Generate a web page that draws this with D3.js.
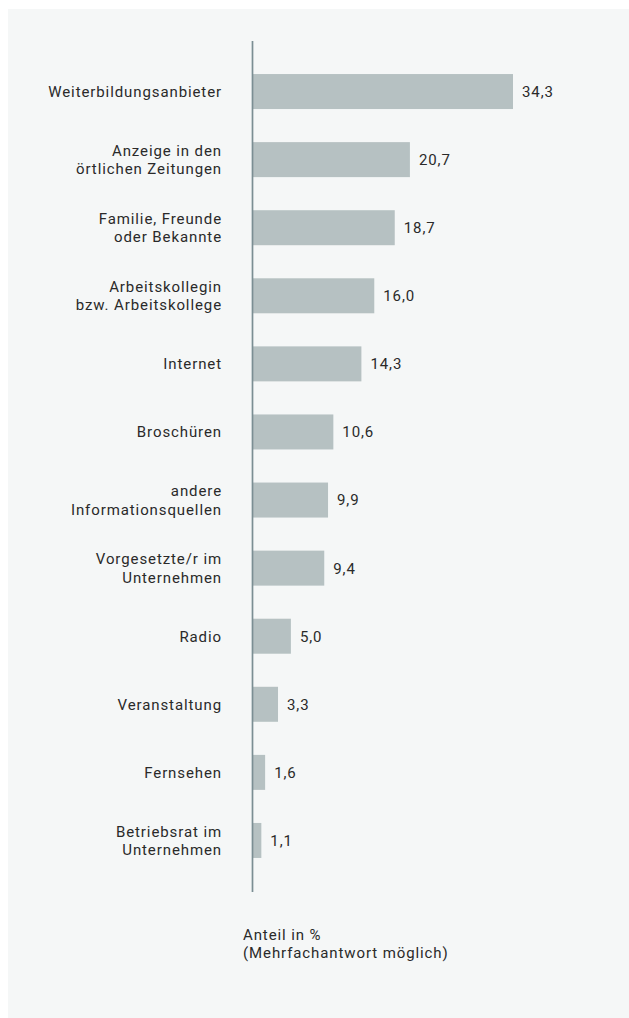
<!DOCTYPE html>
<html>
<head>
<meta charset="utf-8">
<script src="https://cdn.jsdelivr.net/npm/d3@7"></script>
<style>
  html, body { margin: 0; padding: 0; background: #ffffff; }
  svg { display: block; }
  text { font-family: Roboto, "Noto Sans", sans-serif; fill: #2a2a2a; }
</style>
</head>
<body>
<svg id="chart" width="629" height="1018"></svg>
<script>
// Information sources for further training (share in %, multiple answers possible)
const categories = [
  ["Weiterbildungsanbieter"],
  ["Anzeige in den", "örtlichen Zeitungen"],
  ["Familie, Freunde", "oder Bekannte"],
  ["Arbeitskollegin", "bzw. Arbeitskollege"],
  ["Internet"],
  ["Broschüren"],
  ["andere", "Informationsquellen"],
  ["Vorgesetzte/r im", "Unternehmen"],
  ["Radio"],
  ["Veranstaltung"],
  ["Fernsehen"],
  ["Betriebsrat im", "Unternehmen"]
];
const values = [34.3, 20.7, 18.7, 16.0, 14.3, 10.6, 9.9, 9.4, 5.0, 3.3, 1.6, 1.1];
const valueLabels = ["34,3", "20,7", "18,7", "16,0", "14,3", "10,6", "9,9", "9,4", "5,0", "3,3", "1,6", "1,1"];
const footnote = ["Anteil in %", "(Mehrfachantwort möglich)"];

const svg = d3.select("#chart");

// panel background
svg.append("rect")
  .attr("x", 8).attr("y", 9)
  .attr("width", 621).attr("height", 1009)
  .attr("fill", "#f5f7f7");

const axisX = 253;
const x = d3.scaleLinear().domain([0, 40]).range([axisX, axisX + 303.2]);
const keys = categories.map((c, i) => i);
const y = d3.scaleBand().domain(keys).range([57.5, 874.5]).paddingInner(0.486).paddingOuter(0.243);

const fontSize = 15;
const spacing = "0.9px";
const lineH = 18.5;

// bars
svg.append("g").selectAll("rect")
  .data(values)
  .join("rect")
  .attr("x", x(0))
  .attr("y", (d, i) => y(i))
  .attr("width", d => x(d) - x(0))
  .attr("height", y.bandwidth())
  .attr("fill", "#b6c1c2");

// axis line
svg.append("line")
  .attr("x1", axisX - 0.5).attr("x2", axisX - 0.5)
  .attr("y1", 41).attr("y2", 892)
  .attr("stroke", "#7b8e93")
  .attr("stroke-width", 1.7);

// value labels
svg.append("g").selectAll("text")
  .data(values)
  .join("text")
  .attr("x", d => x(d) + 9)
  .attr("y", (d, i) => y(i) + y.bandwidth() / 2)
  .attr("dy", "0.36em")
  .attr("font-size", fontSize)
  .attr("letter-spacing", spacing)
  .text((d, i) => valueLabels[i]);

// category labels
const cat = svg.append("g").selectAll("text")
  .data(categories)
  .join("text")
  .attr("text-anchor", "end")
  .attr("font-size", fontSize)
  .attr("letter-spacing", spacing)
  .attr("y", (d, i) => y(i) + y.bandwidth() / 2);
cat.each(function(lines) {
  const t = d3.select(this);
  const cy = +t.attr("y");
  lines.forEach((l, k) => {
    t.append("tspan")
      .attr("x", 222)
      .attr("y", cy + (k - (lines.length - 1) / 2) * lineH)
      .attr("dy", "0.36em")
      .text(l);
  });
});

// footnote
svg.append("g").selectAll("text")
  .data(footnote)
  .join("text")
  .attr("x", 243)
  .attr("y", (d, i) => 940 + i * 18)
  .attr("font-size", fontSize)
  .attr("letter-spacing", spacing)
  .text(d => d);
</script>
</body>
</html>
